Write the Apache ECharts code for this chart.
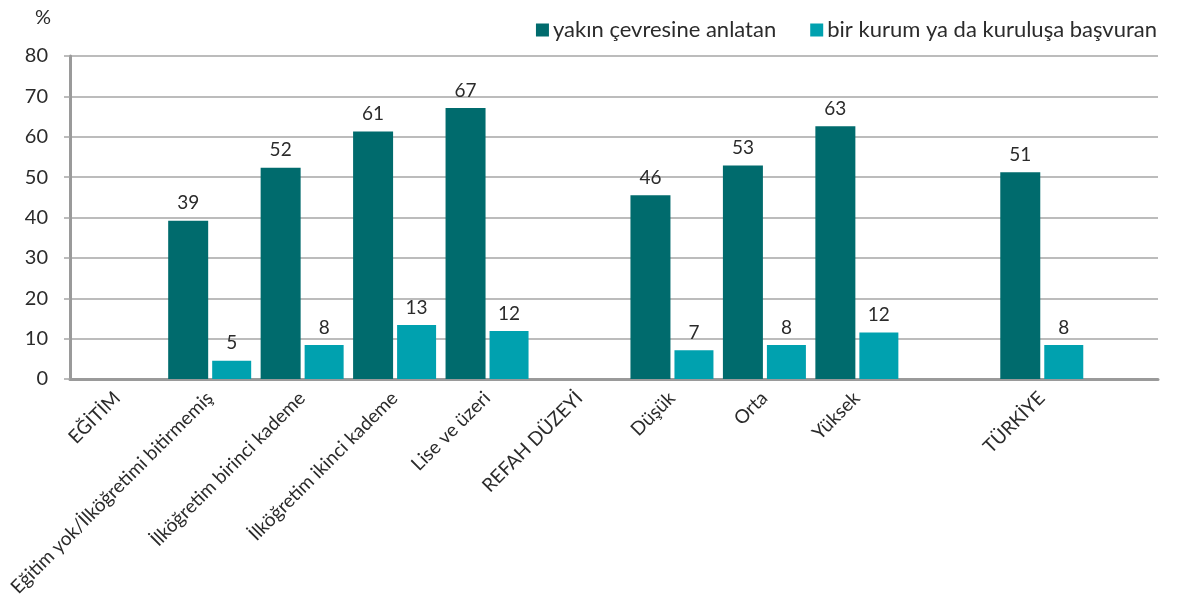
<!DOCTYPE html>
<html lang="tr">
<head>
    <meta charset="UTF-8">
    <title>Şiddete uğrayan kadınlar</title>
    <script src="https://cdn.jsdelivr.net/npm/echarts@6/dist/echarts.min.js"></script>
    <style>
        html, body { margin: 0; padding: 0; background: #fff; }
        #chart { width: 1178px; height: 610px; }
    </style>
</head>
<body>
<div id="chart"></div>
<script type="text/javascript">
    // veriler
    var categories = ['EĞİTİM', 'Eğitim yok/İlköğretimi bitirmemiş', 'İlköğretim birinci kademe',
        'İlköğretim ikinci kademe', 'Lise ve üzeri', 'REFAH DÜZEYİ', 'Düşük', 'Orta', 'Yüksek', '', 'TÜRKİYE'];
    var seriesNames = ['yakın çevresine anlatan', 'bir kurum ya da kuruluşa başvuran'];
    var yakinCevre = [null, 39.2, 52.3, 61.3, 67.1, null, 45.5, 52.9, 62.6, null, 51.2];
    var kurumBasvuru = [null, 4.5, 8.4, 13.4, 11.9, null, 7.1, 8.4, 11.5, null, 8.4];
    var yTicks = [0, 10, 20, 30, 40, 50, 60, 70, 80];

    var FONT = 'Lato';
    var TXT = '#2b2b2b';
    var chart = echarts.init(document.getElementById('chart'));

    function roundLabel(p) { return Math.round(p.value); }

    var option = {
        animation: false,
        textStyle: { fontFamily: FONT },
        title: {
            text: '%', left: 30, top: 3,
            textStyle: { fontFamily: FONT, fontSize: 20, fontWeight: 'normal', color: TXT }
        },
        legend: {
            right: 16, top: 14,
            icon: 'rect', itemWidth: 13, itemHeight: 13, itemGap: 34,
            textStyle: { fontFamily: FONT, fontSize: 22, color: TXT, padding: [0, 0, 0, -1] },
            data: seriesNames
        },
        grid: [
            // çerçeve: ızgara çizgileri ve eksen çizgileri
            { left: 70, right: 20, top: 56, bottom: 231 },
            // çubuklar
            { left: 71, right: 90, top: 56, bottom: 231 }
        ],
        xAxis: [
            {
                gridIndex: 0, type: 'category', data: [''],
                axisLine: { lineStyle: { color: '#9a9a9a', width: 3 } },
                axisTick: { show: false }, axisLabel: { show: false }
            },
            {
                gridIndex: 1, type: 'category', data: categories,
                axisLine: { show: false }, axisTick: { show: false },
                axisLabel: {
                    rotate: 45, interval: 0, margin: 16,
                    fontFamily: FONT, fontSize: 19, color: TXT
                }
            }
        ],
        yAxis: [
            {
                gridIndex: 0, type: 'value', min: yTicks[0], max: yTicks[yTicks.length - 1], interval: 10,
                axisLine: { show: true, lineStyle: { color: '#9a9a9a', width: 3 } },
                axisTick: { show: true, inside: false, length: 6, lineStyle: { color: '#a6a6a6', width: 1.5 } },
                splitLine: { lineStyle: { color: '#a6a6a6', width: 1.5 } },
                axisLabel: { margin: 22, fontFamily: FONT, fontSize: 20, color: TXT }
            },
            {
                gridIndex: 1, type: 'value', min: 0, max: 80, show: false
            }
        ],
        series: [
            {
                name: seriesNames[0], type: 'bar', xAxisIndex: 1, yAxisIndex: 1,
                data: yakinCevre, barWidth: 40, barGap: '10%',
                itemStyle: { color: '#006b6d' },
                label: {
                    show: true, position: 'top', distance: 8,
                    fontFamily: FONT, fontSize: 19, color: TXT,
                    formatter: roundLabel
                }
            },
            {
                name: seriesNames[1], type: 'bar', xAxisIndex: 1, yAxisIndex: 1,
                data: kurumBasvuru, barWidth: 39,
                itemStyle: { color: '#00a1af' },
                label: {
                    show: true, position: 'top', distance: 8,
                    fontFamily: FONT, fontSize: 19, color: TXT,
                    formatter: roundLabel
                }
            }
        ]
    };
    chart.setOption(option);
</script>
</body>
</html>
